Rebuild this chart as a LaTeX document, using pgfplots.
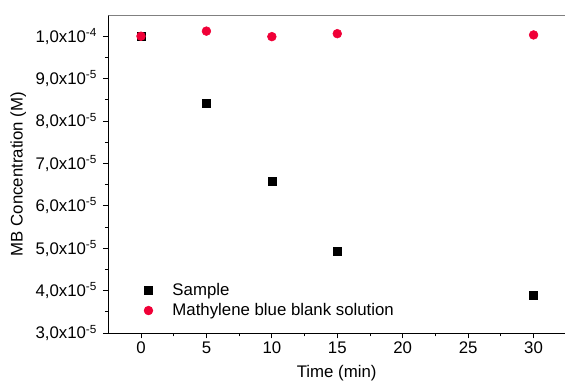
\documentclass[border=0pt]{standalone}
\usepackage{fontspec}
\setmainfont{Liberation Sans}
\usepackage{pgfplots}
\pgfplotsset{compat=1.18}
\definecolor{mbred}{RGB}{240,0,55}
\newcommand{\fs}{\fontsize{12.6}{14.5}\selectfont}
\begin{document}
\fs
\begin{tikzpicture}
\useasboundingbox (-81.2pt,-36.75pt) rectangle (342.5pt,249.75pt);
\begin{axis}[
  at={(0,0)}, anchor=south west,
  scale only axis, width=342.5pt, height=238.5pt,
  xmin=-2.5, xmax=32.4, ymin=3e-5, ymax=1.05e-4,
  scaled y ticks=false,
  axis x line=bottom, axis y line=left, axis line style={-, black, line width=0.7pt},
  xtick={0,5,10,15,20,25,30}, minor x tick num=1,
  ytick={3e-5,4e-5,5e-5,6e-5,7e-5,8e-5,9e-5,1e-4},
  yticklabels={{3,0x10\textsuperscript{-5}},{4,0x10\textsuperscript{-5}},{5,0x10\textsuperscript{-5}},{6,0x10\textsuperscript{-5}},{7,0x10\textsuperscript{-5}},{8,0x10\textsuperscript{-5}},{9,0x10\textsuperscript{-5}},{1,0x10\textsuperscript{-4}}},
  minor y tick num=1,
  tick align=outside,
  major tick length=4pt, minor tick length=2.5pt,
  tick style={black, line width=0.6pt},
  ticklabel style={font=\fs},
  xticklabel style={yshift=2pt},
  /pgf/number format/assume math mode=true,
  xlabel={Time (min)}, ylabel={MB Concentration (M)},
  xlabel style={at={(axis description cs:0.5,-0.126)}, anchor=center, font=\fs},
  ylabel style={at={(axis description cs:-0.197,0.5)}, anchor=center, font=\fs},
  legend image code/.code={\draw[#1] plot coordinates {(0pt,0pt)}; \path[draw=none,fill=none] (-4pt,0pt) -- (16pt,0pt);},
  legend style={draw=none, fill=none, at={(axis description cs:0.067,0.03)}, anchor=south west, font=\fs, row sep=0pt},
  legend cell align=left,
]
\addplot[only marks, mark=square*, mark size=3pt, black] coordinates {
(0,1.0e-4) (5,8.42e-5) (10,6.57e-5) (15,4.92e-5) (30,3.88e-5)};
\addlegendentry{Sample}
\addplot[only marks, mark=*, mark size=3.3pt, mbred] coordinates {
(0,1.0e-4) (5,1.012e-4) (10,0.999e-4) (15,1.006e-4) (30,1.003e-4)};
\addlegendentry{Mathylene blue blank solution}
\draw[gray, line width=0.7pt] (rel axis cs:0,1) -- (rel axis cs:1,1);
\end{axis}
\end{tikzpicture}
\end{document}
